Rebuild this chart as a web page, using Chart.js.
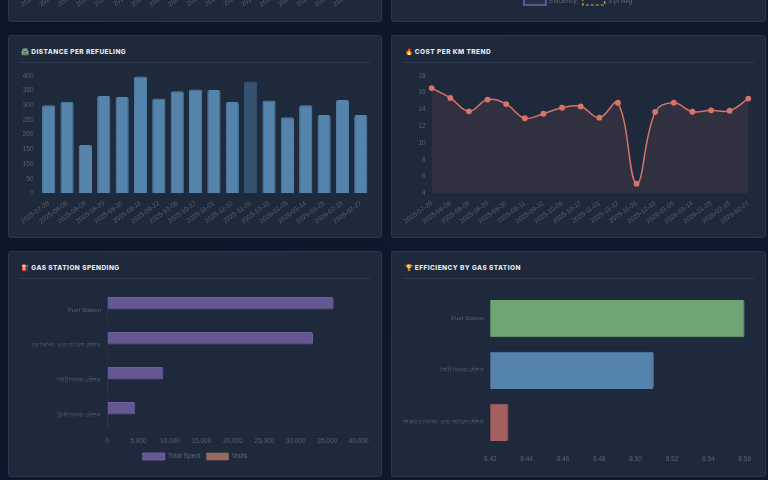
<!DOCTYPE html>
<html><head><meta charset="utf-8">
<script src="https://cdn.jsdelivr.net/npm/chart.js@4"></script>
<style>
html,body{margin:0;padding:0;width:768px;height:480px;overflow:hidden;background:#0e172a}
#page{position:absolute;left:0;top:0;width:768px;height:480px;overflow:hidden;background:linear-gradient(135deg,#0d1628,#0f1a30);filter:blur(.55px)}
.card{position:absolute;background:#1e293b;border:1px solid #2a3649;border-radius:3px;box-sizing:border-box}
.title{position:absolute;font:800 6.5px Inter,"Noto Sans",sans-serif;letter-spacing:.45px;color:#e2e8f0;white-space:nowrap;line-height:10px}
.rule{position:absolute;height:1px;background:#2e3b50}
canvas{position:absolute}
</style></head><body><div id="page"></div>
<script>
const dates=["2025-07-29","2025-08-08","2025-08-09","2025-08-20","2025-08-30","2025-09-11","2025-09-22","2025-10-06","2025-10-17","2025-11-01","2025-11-12","2025-11-26","2025-12-10","2026-01-05","2026-01-14","2026-01-25","2026-02-15","2026-02-27"];
const distanceValues=[300,312,165,332,328,398,323,348,354,352,311,381,316,259,300,267,318,267];
const costValues=[16.55,15.38,13.78,15.18,14.64,12.95,13.5,14.2,14.36,13.03,14.8,5.17,13.7,14.8,13.74,13.9,13.85,15.3];
const spendStations=["Fuel Station","শিকদার ফিলিং এন্ড সার্ভিস স্টেশন","সিটি ফিলিং স্টেশন","ট্রাস্ট ফিলিং স্টেশন"];
const totalSpent=[36030,32740,8950,4500];
const visits=[22,20,6,3];
const effStations=["Fuel Station","সিটি ফিলিং স্টেশন","শিকদার ফিলিং এন্ড সার্ভিস স্টেশন"];
const effValues=[8.56,8.51,8.43];
const effColors=["#6fa574","#5483ab","#a56060"];
const cards=[
 {x:7.5,y:-181,w:374.5,h:202.5},{x:391,y:-181,w:374.5,h:202.5},
 {x:7.5,y:35,w:374.5,h:203,t:"🛣️ DISTANCE PER REFUELING"},{x:391,y:35,w:374.5,h:203,t:"🔥 COST PER KM TREND"},
 {x:7.5,y:251,w:374.5,h:226,t:"⛽ GAS STATION SPENDING"},{x:391,y:251,w:374.5,h:226,t:"🏆 EFFICIENCY BY GAS STATION"}];
const page=document.getElementById('page');
cards.forEach(c=>{
 const d=document.createElement('div');d.className='card';
 d.style.cssText=`left:${c.x}px;top:${c.y}px;width:${c.w}px;height:${c.h}px`;page.appendChild(d);
 if(c.t){const t=document.createElement('div');t.className='title';t.textContent=c.t;
  t.style.left=(c.x+13.5)+'px';t.style.top=(c.y+12)+'px';page.appendChild(t);
  const r=document.createElement('div');r.className='rule';
  r.style.cssText=`left:${c.x+12}px;top:${c.y+27}px;width:${c.w-24}px`;page.appendChild(r);}
});
function mk(x,y,w,h){const c=document.createElement('canvas');c.style.left=x+'px';c.style.top=y+'px';c.style.width=w+'px';c.style.height=h+'px';c.width=w;c.height=h;page.appendChild(c);return c;}
const tickC='#59636f',gridC='rgba(255,255,255,0.012)',f={family:'"Liberation Sans", Arial, sans-serif',size:6.5},fy={...f,size:6.2};
Chart.defaults.animation=false;Chart.defaults.responsive=false;Chart.defaults.font.family=f.family;Chart.defaults.font.size=6.5;
const fixW=n=>s=>{s.width=n};const fixH=n=>s=>{s.height=n};
const flat={color:gridC,drawTicks:false};
const dateAxis=()=>({grid:{color:gridC,tickLength:6},border:{display:false},ticks:{color:tickC,font:f,minRotation:36,maxRotation:36,autoSkip:false,padding:0},afterFit:fixH(37.5)});
const valAxis=(min,max,step,w)=>({min,max,grid:flat,border:{display:false},ticks:{color:tickC,font:f,stepSize:step,padding:6},afterFit:fixW(w)});
const noLegend={legend:{display:false},tooltip:{enabled:false}};
const legendOpts={position:'bottom',labels:{color:'#5f6a78',font:f,boxWidth:22,boxHeight:7,padding:6}};
// top-left: only its date axis is inside the window; its bars are above the frame and cannot be read
new Chart(mk(4,-150,370,164),{type:'bar',data:{labels:dates,datasets:[{data:[]}]},options:{layout:{padding:{top:8.5,right:4}},plugins:noLegend,scales:{x:dateAxis(),y:valAxis(0,400,50,35.5)}}});
// top-right: only its legend is inside the window
new Chart(mk(399,-150,358,164.5),{type:'line',data:{labels:dates,datasets:[
 {label:'Efficiency',data:[],borderColor:'#7461ad',backgroundColor:'rgba(106,90,160,.12)',borderWidth:1.5},
 {label:'3-pt Avg',data:[],borderColor:'#d4ae3e',backgroundColor:'transparent',borderWidth:1.2,borderDash:[3,2]}]},
 options:{plugins:{tooltip:{enabled:false},legend:legendOpts},scales:{x:{display:false},y:{display:false}}}});
// distance
new Chart(mk(4,66,370,165),{type:'bar',data:{labels:dates,datasets:[{data:distanceValues,
 backgroundColor:distanceValues.map((v,i)=>i===11?'#35536f':'#5483ab'),borderColor:distanceValues.map((v,i)=>i===11?'#37567a':'#5685ad'),borderWidth:1,borderRadius:2}]},
 options:{layout:{padding:{top:8.5,right:4}},plugins:noLegend,scales:{x:dateAxis(),y:valAxis(0,400,50,35.5)}}});
// cost
new Chart(mk(388,66,370,165),{type:'line',data:{labels:dates,datasets:[{data:costValues,borderColor:'#d9736a',backgroundColor:'rgba(217,115,106,.1)',fill:true,tension:.4,borderWidth:1.5,pointRadius:2.2,pointBackgroundColor:'#d9736a',pointBorderColor:'#d9736a'}]},
 options:{layout:{padding:{top:8.5,right:9.7}},plugins:noLegend,scales:{x:dateAxis(),y:valAxis(4,18,2,43.7)}}});
// spending
new Chart(mk(0,283,380,187),{type:'bar',data:{labels:spendStations,datasets:[
 {label:'Total Spent',data:totalSpent,backgroundColor:'#655791',borderColor:'#6f60a0',borderWidth:1,borderRadius:2},
 {label:'Visits',data:visits,backgroundColor:'#976a60',borderColor:'#976a60',borderWidth:.6,borderRadius:1}]},
 options:{indexAxis:'y',layout:{padding:{top:8.7,left:31.3,right:21.3}},plugins:{tooltip:{enabled:false},legend:legendOpts},
 scales:{x:{min:0,max:40000,grid:flat,border:{display:false},ticks:{color:tickC,font:f,stepSize:5000,padding:4.5,callback:v=>v.toLocaleString('en-US')},afterFit:fixH(14.3)},y:{grid:flat,border:{display:false},ticks:{color:tickC,font:fy,padding:6,autoSkip:false},afterFit:fixW(75.7)}}}});
// efficiency
new Chart(mk(400,283,358,187),{type:'bar',data:{labels:effStations,datasets:[{data:effValues,backgroundColor:effColors,borderColor:effColors,borderWidth:1,borderRadius:2}]},
 options:{indexAxis:'y',layout:{padding:{top:9.5,right:12.7}},plugins:noLegend,
 scales:{x:{min:8.42,max:8.56,grid:flat,border:{display:false},ticks:{color:tickC,font:f,stepSize:.02,padding:7,callback:v=>v.toFixed(2)}},y:{grid:flat,border:{display:false},ticks:{color:tickC,font:fy,padding:6,autoSkip:false},afterFit:fixW(90.3)}}}});
</script></body></html>
